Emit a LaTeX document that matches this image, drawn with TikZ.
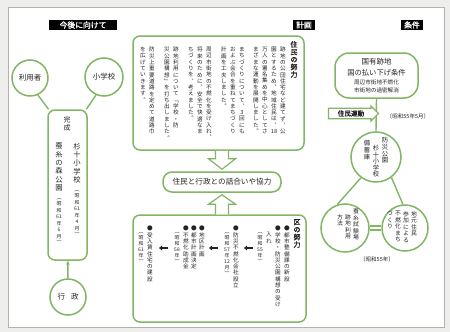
\documentclass[tikz,border=0pt]{standalone}
\usepackage{fontspec}
\setmainfont{Noto Sans CJK JP}[AutoFakeBold=1.5]
\usetikzlibrary{calc,arrows.meta,shapes.arrows}
\definecolor{grn}{RGB}{128,182,100}
\definecolor{txt}{RGB}{35,35,35}
\definecolor{bgc}{RGB}{238,238,236}
\makeatletter
\newcommand\vcol[2]{\vbox{\baselineskip=#1\relax\lineskiplimit=-\maxdimen\lineskip=0pt\@tfor\vc@c:=#2\do{\hbox to 10pt{\hss\vc@c\hss}}}}
\makeatother
\newcommand\fs[1]{\fontsize{#1}{#1}\selectfont}
\begin{document}
\begin{tikzpicture}[x=1pt,y=-1pt,
  gline/.style={draw=grn,line width=1.4pt},
  gbox/.style={draw=grn,line width=1.5pt,fill=white,rounded corners=7pt,inner sep=0pt},
  gcirc/.style={circle,draw=grn,line width=1.5pt,fill=white,inner sep=0pt,text=txt,font=\fs{7.5}},
  hdr/.style={fill=black,text=white,font=\fs{7.8}\bfseries,inner xsep=3pt,inner ysep=1pt,minimum height=9.5pt},
  vt/.style={inner sep=0pt,anchor=north,text=txt,font=\fs{5.6}},
  vh/.style={vt,font=\fs{7}\bfseries},
  vs/.style={vt,font=\fs{5}},
  ht/.style={inner sep=0pt,text=txt},
  hollow/.style={draw=grn,line width=1.2pt,fill=white,line join=miter},
  barrow/.style={draw=txt,line width=1.6pt,-{Triangle[length=3.2pt,width=5pt]}}]
\useasboundingbox (0,0) rectangle (450,332);
\fill[bgc] (0,0) rectangle (450,332);
\draw[gray!60,line width=0.7pt,fill=white] (8,7) rectangle (444,327);

% headers
\node[hdr,minimum width=68pt] (hA) at (83,25) {今後に向けて};
\node[hdr] (hB) at (304,25) {計画};
\node[hdr] (hC) at (412,25) {条件};

% left column
\node[gcirc,minimum size=36pt] (riyo) at (30,78) {利用者};
\node[gcirc,minimum size=38pt] (shogakko) at (104,77) {小学校};
\node[gbox,minimum width=39pt,minimum height=150pt] (leftbox) at (67.5,185) {};
\node[gcirc,minimum size=36pt] (gyosei) at (68,297) {行\hspace{6pt}政};
\draw[gline] (riyo.295) -- (leftbox.104);
\draw[gline] (shogakko.246) -- (leftbox.76);
\draw[gline,-{Stealth[length=4pt,width=3.5pt]}] (gyosei) -- (leftbox);
\node[vt,font=\fs{7}] (kansei) at (67,116) {\vcol{8pt}{完成}};
\node[vt,font=\fs{7.3}] (sugi) at (77,143) {\vcol{8.3pt}{杉十小学校}};
\node[vs] (sugid) at (77,190) {\vcol{6.5pt}{︹昭和{61}年{4}月︺}};
\node[vt,font=\fs{7.3}] (mori) at (59,143) {\vcol{8.3pt}{蚕糸の森公園}};
\node[vs] (morid) at (59,198) {\vcol{6.5pt}{︹昭和{61}年{6}月︺}};

% top box
\node[gbox,minimum width=171pt,minimum height=114pt] (topbox) at (218.5,93) {};
\node[vh] (th) at (294,41) {\vcol{7.5pt}{住民の努力}};
\node[vt] (t1) at (283,47) {\vcol{6.3pt}{跡地の公団住宅など建てず︑公}};
\node[vt] (t2) at (274,47) {\vcol{6.3pt}{園とするため︑地域住民は︑{18}}};
\node[vt] (t3) at (265,47) {\vcol{6.3pt}{万人の署名集めを中心としてさ}};
\node[vt] (t4) at (256,47) {\vcol{6.3pt}{まざまな運動を展開しました︒}};
\node[vt] (t5) at (242,47) {\vcol{6.3pt}{まちづくりについて︑{3}回にも}};
\node[vt] (t6) at (233,47) {\vcol{6.3pt}{およぶ会合を重ねてまちづくり}};
\node[vt] (t7) at (224,47) {\vcol{6.3pt}{計画を工夫しました︒}};
\node[vt] (t8) at (209,47) {\vcol{6.3pt}{周辺市街地の不燃化を受け入れ︑}};
\node[vt] (t9) at (200,47) {\vcol{6.3pt}{将来のために︑安全で快適なま}};
\node[vt] (t10) at (191,47) {\vcol{6.3pt}{ちづくりを︑考えました︒}};
\node[vt] (t11) at (176,47) {\vcol{6.3pt}{跡地利用について﹁学校・防}};
\node[vt] (t12) at (167,47) {\vcol{6.3pt}{災公園構想﹂を打ち出しました︒}};
\node[vt] (t13) at (152,47) {\vcol{6.3pt}{防災上重要道路を定めて道路巾}};
\node[vt] (t14) at (143,47) {\vcol{6.3pt}{を広げていきます︒}};

% middle box
\node[gbox,rounded corners=9pt,minimum width=118pt,minimum height=20pt,text=txt,font=\fs{7.6}] (midbox) at (222,182) {住民と行政との話合いや協力};

% bottom box
\node[gbox,minimum width=173pt,minimum height=107pt] (botbox) at (219.5,268.5) {};
\node[vh] (bh) at (297,219) {\vcol{7.5pt}{区の努力}};
\node[vt] (b1) at (287,226) {\vcol{6.3pt}{●都市整備課の新設}};
\node[vt] (b2) at (278,226) {\vcol{6.3pt}{●学校・防災公園構想の受け}};
\node[vt] (b3) at (269,232.3) {\vcol{6.3pt}{入れ}};
\node[vs] (b4) at (260,232.3) {\vcol{6pt}{︹昭和{55}年︺}};
\node[vt] (b5) at (236,226) {\vcol{6.3pt}{●防災不燃化会社設立}};
\node[vs] (b6) at (227,232.3) {\vcol{6pt}{︹昭和{57}年{12}月︺}};
\node[vt] (b7) at (202,226) {\vcol{6.3pt}{●地区計画}};
\node[vt] (b8) at (194,226) {\vcol{6.3pt}{●都市計画決定}};
\node[vt] (b9) at (186,226) {\vcol{6.3pt}{●不燃化助成金}};
\node[vs] (b10) at (177,232.3) {\vcol{6pt}{︹昭和{58}年︺}};
\node[vt] (b11) at (150,226) {\vcol{6.3pt}{●受入賃住宅の建設}};
\node[vs] (b12) at (141,232.3) {\vcol{6pt}{︹昭和{61}年︺}};
\coordinate (a1s) at (253,248); \coordinate (a1e) at (244,248);
\coordinate (a2s) at (218,248); \coordinate (a2e) at (209,248);
\coordinate (a3s) at (168,248); \coordinate (a3e) at (159,248);
\draw[barrow] (a1s) -- (a1e);
\draw[barrow] (a2s) -- (a2e);
\draw[barrow] (a3s) -- (a3e);

% hollow arrows
\coordinate (dA) at (topbox.south -| midbox.north);
\coordinate (dT) at ($(midbox.north)+(0,-2)$);
\draw[hollow] ($(dA)+(-6.5,0)$) -- ($(dA)+(-6.5,8)$) -- ($(dA)+(-13.5,8)$) -- (dT) -- ($(dA)+(13.5,8)$) -- ($(dA)+(6.5,8)$) -- ($(dA)+(6.5,0)$);
\coordinate (uA) at (botbox.north -| midbox.south);
\coordinate (uT) at ($(midbox.south)+(0,2)$);
\draw[hollow] ($(uA)+(-6.5,0)$) -- ($(uA)+(-6.5,-10)$) -- ($(uA)+(-13.5,-10)$) -- (uT) -- ($(uA)+(13.5,-10)$) -- ($(uA)+(6.5,-10)$) -- ($(uA)+(6.5,0)$);

% right side
\node[gbox,rounded corners=14pt,minimum width=83pt,minimum height=45pt] (kokuyu) at (376.5,75.5) {};
\node[ht,font=\fs{7.5}] (k1) at (376.5,62) {国有跡地};
\node[ht,font=\fs{7.3}] (k2) at (376.5,72.5) {国の払い下げ条件};
\node[ht,font=\fs{5.6}] (k3) at (376.5,82.5) {周辺市街地不燃化};
\node[ht,font=\fs{5.6}] (k4) at (376.5,90) {市街地の過密解消};
\node[gcirc,minimum size=50pt] (bokou) at (376,157) {};
\draw[gline] (kokuyu.south) -- (bokou.north);
\node[single arrow,draw=grn,line width=1.2pt,fill=white,minimum height=50pt,single arrow head extend=2.5pt,inner xsep=2pt,inner ysep=1.5pt,text=txt,font=\fs{6.6}\bfseries] (undo) at (351,113.5) {住民運動};
\node[ht,font=\fs{5.5}] (date1) at (408,116) {〔昭和55年5月〕};
\node[vt,font=\fs{6.3}] (c1) at (385,137) {\vcol{6.8pt}{防災公園}};
\node[vt,font=\fs{6.3}] (c2) at (376,145) {\vcol{6.6pt}{杉十小学校}};
\node[vt,font=\fs{6.3}] (c3) at (367,140) {\vcol{6.8pt}{備蓄庫}};
\node[gcirc,minimum size=48pt] (sanshi) at (345,228) {};
\node[gcirc,minimum size=46pt] (jimoto) at (405,228) {};
\draw[gline] (bokou.234) -- (sanshi.108);
\draw[gline] (bokou.307) -- (jimoto.95);
\draw[gline] ([yshift=2pt]sanshi.east) -- ([yshift=2pt]jimoto.west);
\draw[gline] ([yshift=-2pt]sanshi.east) -- ([yshift=-2pt]jimoto.west);
\node[vt,font=\fs{5.8}] (s1) at (356,209) {\vcol{6.5pt}{蚕糸試験場}};
\node[vt,font=\fs{5.8}] (s2) at (348,214) {\vcol{6.5pt}{跡地利用}};
\node[vt,font=\fs{5.8}] (s3) at (340,214) {\vcol{6.5pt}{方法}};
\node[vt,font=\fs{5.8}] (j1) at (414,211) {\vcol{6.5pt}{地元住民}};
\node[vt,font=\fs{5.8}] (j2) at (406,211) {\vcol{6.5pt}{参加による}};
\node[vt,font=\fs{5.8}] (j3) at (398,211) {\vcol{6.5pt}{不燃化まち}};
\node[vt,font=\fs{5.8}] (j4) at (390,211) {\vcol{6.5pt}{づくり}};
\node[ht,font=\fs{5.5}] (date2) at (377,259) {〔昭和55年〕};
\end{tikzpicture}
\end{document}
